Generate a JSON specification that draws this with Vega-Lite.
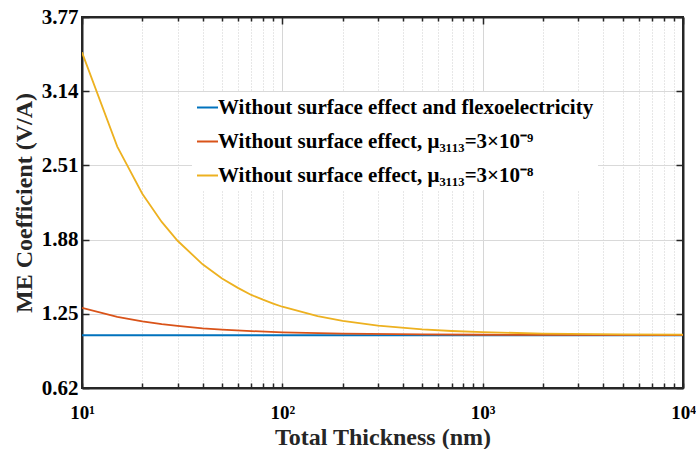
{
  "$schema": "https://vega.github.io/schema/vega-lite/v6.json",
  "width": 601,
  "height": 371,
  "padding": {"left": 12, "top": 6, "right": 0, "bottom": 0},
  "background": "white",
  "config": {
    "view": {"stroke": "#262626", "strokeWidth": 2},
    "font": "Liberation Serif",
    "axis": {"labelFont": "Liberation Serif", "titleFont": "Liberation Serif", "labelFontWeight": "bold", "titleFontWeight": "bold", "labelColor": "#000", "titleColor": "#262626", "domainColor": "#262626", "tickColor": "#262626", "domainWidth": 2, "tickWidth": 1.5}
  },
  "data": {"values": [
    {"t": 10, "me": 1.068, "s": "Without surface effect and flexoelectricity"},
    {"t": 100, "me": 1.068, "s": "Without surface effect and flexoelectricity"},
    {"t": 1000, "me": 1.068, "s": "Without surface effect and flexoelectricity"},
    {"t": 10000, "me": 1.068, "s": "Without surface effect and flexoelectricity"},
    {"t": 10, "me": 1.300, "s": "Without surface effect, μ₃₁₁₃=3×10⁻⁹"},
    {"t": 15, "me": 1.223, "s": "Without surface effect, μ₃₁₁₃=3×10⁻⁹"},
    {"t": 20, "me": 1.185, "s": "Without surface effect, μ₃₁₁₃=3×10⁻⁹"},
    {"t": 25, "me": 1.162, "s": "Without surface effect, μ₃₁₁₃=3×10⁻⁹"},
    {"t": 30, "me": 1.147, "s": "Without surface effect, μ₃₁₁₃=3×10⁻⁹"},
    {"t": 40, "me": 1.127, "s": "Without surface effect, μ₃₁₁₃=3×10⁻⁹"},
    {"t": 50, "me": 1.116, "s": "Without surface effect, μ₃₁₁₃=3×10⁻⁹"},
    {"t": 70, "me": 1.103, "s": "Without surface effect, μ₃₁₁₃=3×10⁻⁹"},
    {"t": 100, "me": 1.093, "s": "Without surface effect, μ₃₁₁₃=3×10⁻⁹"},
    {"t": 200, "me": 1.081, "s": "Without surface effect, μ₃₁₁₃=3×10⁻⁹"},
    {"t": 500, "me": 1.075, "s": "Without surface effect, μ₃₁₁₃=3×10⁻⁹"},
    {"t": 1000, "me": 1.072, "s": "Without surface effect, μ₃₁₁₃=3×10⁻⁹"},
    {"t": 10000, "me": 1.070, "s": "Without surface effect, μ₃₁₁₃=3×10⁻⁹"},
    {"t": 10, "me": 3.47, "s": "Without surface effect, μ₃₁₁₃=3×10⁻⁸"},
    {"t": 15, "me": 2.67, "s": "Without surface effect, μ₃₁₁₃=3×10⁻⁸"},
    {"t": 20, "me": 2.27, "s": "Without surface effect, μ₃₁₁₃=3×10⁻⁸"},
    {"t": 25, "me": 2.03, "s": "Without surface effect, μ₃₁₁₃=3×10⁻⁸"},
    {"t": 30, "me": 1.87, "s": "Without surface effect, μ₃₁₁₃=3×10⁻⁸"},
    {"t": 40, "me": 1.67, "s": "Without surface effect, μ₃₁₁₃=3×10⁻⁸"},
    {"t": 50, "me": 1.55, "s": "Without surface effect, μ₃₁₁₃=3×10⁻⁸"},
    {"t": 60, "me": 1.47, "s": "Without surface effect, μ₃₁₁₃=3×10⁻⁸"},
    {"t": 70, "me": 1.41, "s": "Without surface effect, μ₃₁₁₃=3×10⁻⁸"},
    {"t": 80, "me": 1.37, "s": "Without surface effect, μ₃₁₁₃=3×10⁻⁸"},
    {"t": 90, "me": 1.337, "s": "Without surface effect, μ₃₁₁₃=3×10⁻⁸"},
    {"t": 100, "me": 1.31, "s": "Without surface effect, μ₃₁₁₃=3×10⁻⁸"},
    {"t": 150, "me": 1.23, "s": "Without surface effect, μ₃₁₁₃=3×10⁻⁸"},
    {"t": 200, "me": 1.19, "s": "Without surface effect, μ₃₁₁₃=3×10⁻⁸"},
    {"t": 300, "me": 1.15, "s": "Without surface effect, μ₃₁₁₃=3×10⁻⁸"},
    {"t": 500, "me": 1.118, "s": "Without surface effect, μ₃₁₁₃=3×10⁻⁸"},
    {"t": 700, "me": 1.104, "s": "Without surface effect, μ₃₁₁₃=3×10⁻⁸"},
    {"t": 1000, "me": 1.094, "s": "Without surface effect, μ₃₁₁₃=3×10⁻⁸"},
    {"t": 2000, "me": 1.082, "s": "Without surface effect, μ₃₁₁₃=3×10⁻⁸"},
    {"t": 5000, "me": 1.076, "s": "Without surface effect, μ₃₁₁₃=3×10⁻⁸"},
    {"t": 10000, "me": 1.073, "s": "Without surface effect, μ₃₁₁₃=3×10⁻⁸"}
  ]},
  "layer": [
    {
      "mark": {"type": "line", "strokeWidth": 1.8, "clip": true},
      "encoding": {
        "x": {"field": "t", "type": "quantitative",
          "scale": {"type": "log", "domain": [10, 10000], "nice": false},
          "axis": {
            "title": "Total Thickness (nm)", "titleFontSize": 24, "titlePadding": 3,
            "values": [10,20,30,40,50,60,70,80,90,100,200,300,400,500,600,700,800,900,1000,2000,3000,4000,5000,6000,7000,8000,9000,10000],
            "labelExpr": "datum.value==10?'10¹':datum.value==100?'10²':datum.value==1000?'10³':datum.value==10000?'10⁴':''",
            "labelFontSize": 19, "labelPadding": 20, "labelFlush": false,
            "tickSize": -5,
            "grid": true,
            "gridColor": {"condition": {"test": "datum.value==100||datum.value==1000", "value": "#d6d6d6"}, "value": "#cfcfcf"},
            "gridDash": {"condition": {"test": "datum.value==100||datum.value==1000", "value": []}, "value": [1, 2]},
            "gridWidth": 1
          }
        },
        "y": {"field": "me", "type": "quantitative",
          "scale": {"domain": [0.62, 3.77], "nice": false, "zero": false},
          "axis": {
            "title": "ME Coefficient (V/A)", "titleFontSize": 24, "titlePadding": 5,
            "values": [0.62, 1.25, 1.88, 2.51, 3.14, 3.77],
            "format": ".2f", "labelFontSize": 21, "labelPadding": 11,
            "tickSize": -7, "grid": true, "gridColor": "#d9d9d9", "gridWidth": 1
          }
        },
        "color": {"field": "s", "type": "nominal",
          "scale": {
            "domain": ["Without surface effect and flexoelectricity", "Without surface effect, μ₃₁₁₃=3×10⁻⁹", "Without surface effect, μ₃₁₁₃=3×10⁻⁸"],
            "range": ["#0072BD", "#D95319", "#EDB120"]
          },
          "legend": {
            "title": null, "orient": "none", "legendX": 110, "legendY": 75,
            "fillColor": "white", "padding": 4,
            "labelFont": "Liberation Serif", "labelFontWeight": "bold", "labelFontSize": 21, "labelColor": "#000", "labelLimit": 600,
            "symbolType": "stroke", "symbolStrokeWidth": 2, "symbolSize": 441, "rowPadding": 12, "labelOffset": -1
          }
        }
      }
    },
    {
      "mark": {"type": "line", "opacity": 0},
      "encoding": {
        "x": {"field": "t", "type": "quantitative",
          "scale": {"type": "log", "domain": [10, 10000], "nice": false},
          "axis": {"orient": "top", "title": null, "labels": false, "grid": false,
            "values": [10,20,30,40,50,60,70,80,90,100,200,300,400,500,600,700,800,900,1000,2000,3000,4000,5000,6000,7000,8000,9000,10000],
            "tickSize": {"condition": {"test": "datum.value==10||datum.value==100||datum.value==1000||datum.value==10000", "value": -7}, "value": -4}}
        },
        "y": {"field": "me", "type": "quantitative",
          "scale": {"domain": [0.62, 3.77], "nice": false, "zero": false},
          "axis": {"orient": "right", "title": null, "labels": false, "grid": false,
            "values": [0.62, 1.25, 1.88, 2.51, 3.14, 3.77], "tickSize": -7}
        },
        "color": {"field": "s", "type": "nominal"}
      }
    }
  ],
  "resolve": {"axis": {"x": "independent", "y": "independent"}}
}
